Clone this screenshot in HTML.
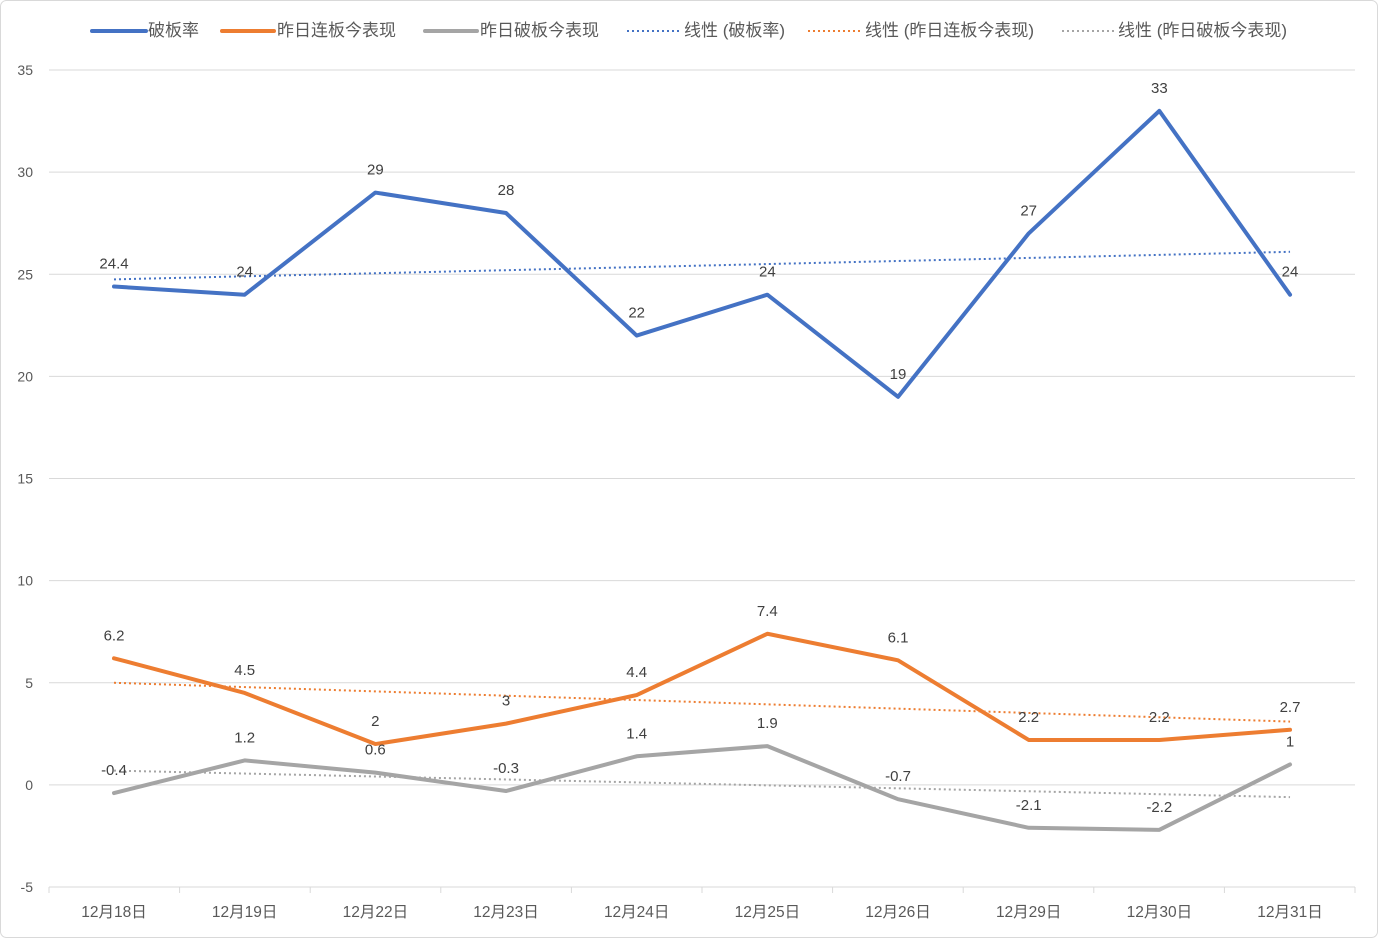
<!DOCTYPE html>
<html><head><meta charset="utf-8"><style>
html,body{margin:0;padding:0;background:#fff}
svg{display:block;font-family:"Liberation Sans","Noto Sans CJK SC",sans-serif}
</style></head><body>
<svg id="c" width="1378" height="938" xmlns="http://www.w3.org/2000/svg">
<rect x="0.5" y="0.5" width="1377" height="937" rx="6" fill="#fff" stroke="#d9d9d9"/>
<g id="g"></g>
<g font-size="17" fill="#595959">
<line x1="92" y1="31" x2="146" y2="31" stroke="#4472C4" stroke-width="4" stroke-linecap="round"/>
<text x="148" y="36">破板率</text>
<line x1="222" y1="31" x2="274" y2="31" stroke="#ED7D31" stroke-width="4" stroke-linecap="round"/>
<text x="277" y="36">昨日连板今表现</text>
<line x1="425" y1="31" x2="477" y2="31" stroke="#A5A5A5" stroke-width="4" stroke-linecap="round"/>
<text x="480" y="36">昨日破板今表现</text>
<line x1="627" y1="31" x2="679" y2="31" stroke="#4472C4" stroke-width="2" stroke-dasharray="2 3"/>
<text x="684" y="36">线性 (破板率)</text>
<line x1="808" y1="31" x2="860" y2="31" stroke="#ED7D31" stroke-width="2" stroke-dasharray="2 3"/>
<text x="865" y="36">线性 (昨日连板今表现)</text>
<line x1="1062" y1="31" x2="1114" y2="31" stroke="#A5A5A5" stroke-width="2" stroke-dasharray="2 3"/>
<text x="1118" y="36">线性 (昨日破板今表现)</text>
</g>
</svg>
<script>
const g=document.getElementById('g');let h='';
const Y=v=>784.9-v*20.425, X=i=>114+i*130.67;
for(let v=-5;v<=35;v+=5){h+=`<line x1="49" x2="1355" y1="${Y(v)}" y2="${Y(v)}" stroke="#d9d9d9"/>`;
h+=`<text x="33" y="${Y(v)+5}" text-anchor="end" font-size="14" fill="#595959">${v}</text>`;}
for(let i=0;i<=10;i++){const x=49+i*130.6;h+=`<line x1="${x}" x2="${x}" y1="887" y2="893" stroke="#d9d9d9"/>`;}
const d=['18','19','22','23','24','25','26','29','30','31'];
d.forEach((s,i)=>h+=`<text x="${X(i)}" y="917" text-anchor="middle" font-size="15.5" fill="#595959">12月${s}日</text>`);
const S=[['#4472C4',[24.4,24,29,28,22,24,19,27,33,24],[24.75,26.1]],['#ED7D31',[6.2,4.5,2,3,4.4,7.4,6.1,2.2,2.2,2.7],[5.0,3.1]],['#A5A5A5',[-0.4,1.2,0.6,-0.3,1.4,1.9,-0.7,-2.1,-2.2,1],[0.7,-0.6]]];
S.forEach(([c,v,t])=>{h+=`<line x1="${X(0)}" y1="${Y(t[0])}" x2="${X(9)}" y2="${Y(t[1])}" stroke="${c}" stroke-width="2" stroke-dasharray="2 3"/>`;});
S.forEach(([c,v])=>{h+=`<polyline fill="none" stroke="${c}" stroke-width="4" stroke-linejoin="round" stroke-linecap="round" points="${v.map((a,i)=>X(i)+','+Y(a)).join(' ')}"/>`;});
S.forEach(([c,v])=>v.forEach((a,i)=>h+=`<text x="${X(i)}" y="${Y(a)-18}" text-anchor="middle" font-size="15" fill="#404040">${a}</text>`));
g.innerHTML=h;
</script>
</body></html>
